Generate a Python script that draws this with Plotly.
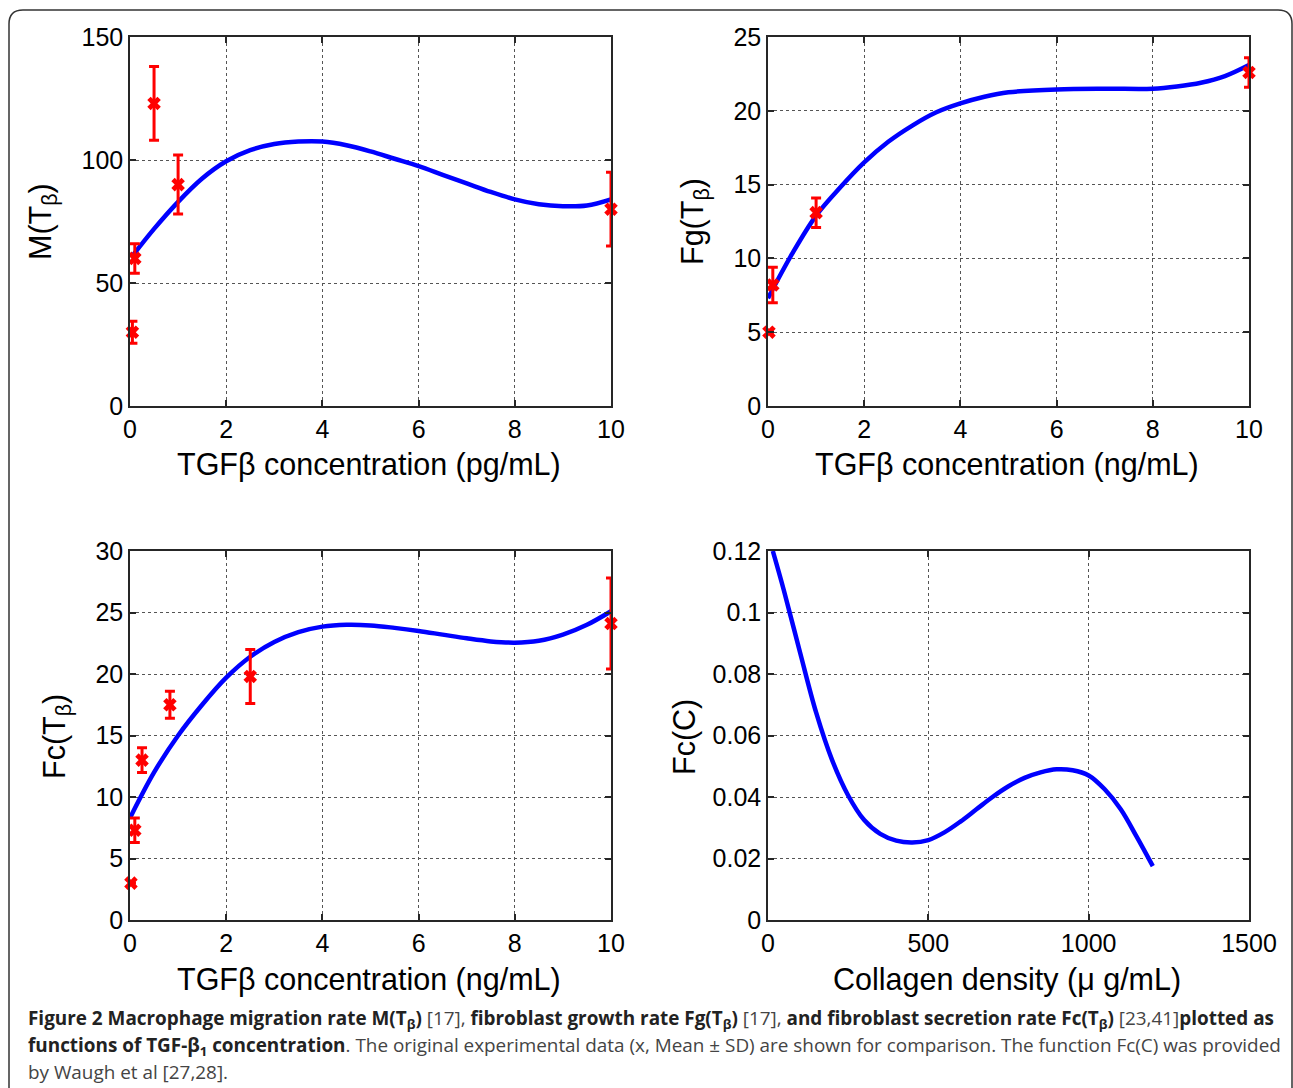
import plotly.graph_objects as go

W, H = 1293, 1088

# ---------------- data ----------------
# Panel A: macrophage migration rate M(Tβ)
m_curve_x = [0.05, 0.5, 1, 1.5, 2, 2.5, 3, 3.5, 4, 4.5, 5, 5.5, 6, 6.5, 7, 7.5, 8, 8.5, 9, 9.5, 10]
m_curve_y = [61, 72, 83, 92.5, 99.5, 104, 106.5, 107.5, 107.5, 106, 103.5, 100.5, 97.5, 94, 90.5, 87, 84, 82, 81.2, 81.5, 84]
m_data_x = [0.05, 0.1, 0.5, 1, 10]
m_data_y = [30, 60, 123, 90, 80]
m_data_sd = [4.5, 6, 15, 12, 15]

# Panel B: fibroblast growth rate Fg(Tβ)
fg_curve_x = [0, 0.5, 1, 1.5, 2, 2.5, 3, 3.5, 4, 4.5, 5, 6, 7, 8, 8.5, 9, 9.5, 10]
fg_curve_y = [7.3, 10.3, 12.9, 14.8, 16.5, 17.9, 19.0, 19.9, 20.5, 20.95, 21.25, 21.45, 21.5, 21.5, 21.65, 21.9, 22.35, 23.1]
fg_data_x = [0.02, 0.1, 1, 10]
fg_data_y = [5, 8.2, 13.1, 22.6]
fg_data_sd = [0, 1.2, 1.0, 1.0]

# Panel C: fibroblast secretion rate Fc(Tβ)
fc_curve_x = [0, 0.5, 1, 1.5, 2, 2.5, 3, 3.5, 4, 4.5, 5, 5.5, 6, 6.5, 7, 7.5, 8, 8.5, 9, 9.5, 10]
fc_curve_y = [8.3, 12.0, 15.0, 17.5, 19.7, 21.4, 22.6, 23.4, 23.85, 24.0, 23.95, 23.75, 23.5, 23.2, 22.9, 22.65, 22.55, 22.7, 23.2, 24.0, 25.1]
fc_data_x = [0.02, 0.1, 0.25, 0.83, 2.5, 10]
fc_data_y = [3.0, 7.3, 13.0, 17.5, 19.8, 24.1]
fc_data_sd = [0, 1.0, 1.0, 1.1, 2.2, 3.7]

# Panel D: Fc(C) vs collagen density
c_curve_x = [15, 50, 100, 150, 200, 250, 300, 350, 400, 450, 500, 550, 600, 650, 700, 750, 800, 850, 900, 950, 1000, 1050, 1100, 1150, 1200]
c_curve_y = [0.12, 0.107, 0.087, 0.0675, 0.052, 0.0405, 0.0325, 0.028, 0.0258, 0.0252, 0.026, 0.0285, 0.032, 0.036, 0.040, 0.0435, 0.0462, 0.048, 0.049, 0.0487, 0.047, 0.0425, 0.036, 0.027, 0.0175]

x_ticks_conc = [0, 2, 4, 6, 8, 10]
x_ticks_coll = [0, 500, 1000, 1500]
y_ticks_m = [0, 50, 100, 150]
y_ticks_fg = [0, 5, 10, 15, 20, 25]
y_ticks_fc = [0, 5, 10, 15, 20, 25, 30]
y_ticks_c = [0, 0.02, 0.04, 0.06, 0.08, 0.1, 0.12]
y_ticktext_c = ["0", "0.02", "0.04", "0.06", "0.08", "0.1", "0.12"]

# ---------------- figure ----------------
BLUE = "#0000ff"
RED = "#ff0000"

def px_x(p):
    return p / W

def px_y(p):
    return 1 - p / H

fig = go.Figure()

panels = [
    (m_curve_x, m_curve_y, m_data_x, m_data_y, m_data_sd, "x", "y"),
    (fg_curve_x, fg_curve_y, fg_data_x, fg_data_y, fg_data_sd, "x2", "y2"),
    (fc_curve_x, fc_curve_y, fc_data_x, fc_data_y, fc_data_sd, "x3", "y3"),
    (c_curve_x, c_curve_y, None, None, None, "x4", "y4"),
]

for cx, cy, dx, dy, sd, xa, ya in panels:
    fig.add_trace(go.Scatter(
        x=cx, y=cy, mode="lines", xaxis=xa, yaxis=ya,
        line=dict(color=BLUE, width=4.5, shape="spline", smoothing=1.0),
        showlegend=False, hoverinfo="skip", cliponaxis=False))
    if dx is not None:
        fig.add_trace(go.Scatter(
            x=dx, y=dy, mode="markers", xaxis=xa, yaxis=ya,
            marker=dict(symbol="x", size=12, color=RED, line=dict(width=0)),
            error_y=dict(type="data", array=sd, visible=True, color=RED,
                         thickness=3, width=5),
            showlegend=False, cliponaxis=False))

boxes = {
    "1": (130, 611, 37, 406),
    "2": (768, 1249, 37, 406),
    "3": (130, 611, 551, 920),
    "4": (768, 1249, 551, 920),
}

tick_font = dict(family="Liberation Sans, Arial", size=25, color="#000")
axis_common = dict(
    showline=True, linecolor="#262626", linewidth=1.5, mirror="ticks",
    ticks="inside", ticklen=6, tickcolor="#262626", tickwidth=1.5,
    showgrid=True, gridcolor="#555", griddash="dot", gridwidth=1,
    zeroline=False, tickfont=tick_font, automargin=False, fixedrange=True,
)

x_specs = {
    "1": dict(range=[0, 10], tickvals=x_ticks_conc),
    "2": dict(range=[0, 10], tickvals=x_ticks_conc),
    "3": dict(range=[0, 10], tickvals=x_ticks_conc),
    "4": dict(range=[0, 1500], tickvals=x_ticks_coll),
}
y_specs = {
    "1": dict(range=[0, 150], tickvals=y_ticks_m),
    "2": dict(range=[0, 25], tickvals=y_ticks_fg),
    "3": dict(range=[0, 30], tickvals=y_ticks_fc),
    "4": dict(range=[0, 0.12], tickvals=y_ticks_c, ticktext=y_ticktext_c),
}

layout_axes = {}
for k, (x0, x1, y0, y1) in boxes.items():
    xn = "xaxis" if k == "1" else f"xaxis{k}"
    yn = "yaxis" if k == "1" else f"yaxis{k}"
    xa = dict(axis_common, domain=[px_x(x0), px_x(x1)],
              anchor="y" if k == "1" else f"y{k}", **x_specs[k])
    ya = dict(axis_common, domain=[px_y(y1), px_y(y0)],
              anchor="x" if k == "1" else f"x{k}", **y_specs[k])
    layout_axes[xn] = xa
    layout_axes[yn] = ya

fig.update_layout(**layout_axes)

title_font = dict(family="Liberation Sans, Arial", size=30.5, color="#000")
annotations = []
x_titles = [
    ("TGFβ concentration (pg/mL)", 369, 464),
    ("TGFβ concentration (ng/mL)", 1007, 464),
    ("TGFβ concentration (ng/mL)", 369, 979),
    ("Collagen density (μ g/mL)", 1007, 979),
]
for t, cxp, cyp in x_titles:
    annotations.append(dict(text=t, x=px_x(cxp), y=px_y(cyp), xref="paper", yref="paper",
                            xanchor="center", yanchor="middle", showarrow=False, font=title_font))
y_titles = [
    ("M(T<sub>β</sub>)", 42, 222),
    ("Fg(T<sub>β</sub>)", 694, 222),
    ("Fc(T<sub>β</sub>)", 56, 737),
    ("Fc(C)", 684, 737),
]
for t, cxp, cyp in y_titles:
    annotations.append(dict(text=t, x=px_x(cxp), y=px_y(cyp), xref="paper", yref="paper",
                            xanchor="center", yanchor="middle", showarrow=False,
                            textangle=-90, font=title_font))

cap_font = dict(family="Open Sans", size=18.9, color="#444")
B = "#222"
line1 = (f"<b><span style='color:{B}'>Figure 2 Macrophage migration rate M(T<sub>β</sub>)</span></b> [17], "
         f"<b><span style='color:{B}'>fibroblast growth rate Fg(T<sub>β</sub>)</span></b> [17], "
         f"<b><span style='color:{B}'>and fibroblast secretion rate Fc(T<sub>β</sub>)</span></b> [23,41]"
         f"<b><span style='color:{B}'>plotted as</span></b>")
line2 = (f"<b><span style='color:{B}'>functions of TGF-β<sub>1</sub> concentration</span></b>. "
         "The original experimental data (x, Mean ± SD) are shown for comparison. The function Fc(C) was provided")
line3 = "by Waugh et al [27,28]."
for t, yp in [(line1, 1019), (line2, 1046), (line3, 1072)]:
    annotations.append(dict(text=t, x=px_x(26), y=px_y(yp), xref="paper", yref="paper",
                            xanchor="left", yanchor="middle", showarrow=False, font=cap_font))

fx0, fy0, fx1, fy1, r = 9, 10, 1292, 1100, 14
path = (f"M {px_x(fx0)},{px_y(fy1)} L {px_x(fx0)},{px_y(fy0 + r)} "
        f"Q {px_x(fx0)},{px_y(fy0)} {px_x(fx0 + r)},{px_y(fy0)} "
        f"L {px_x(fx1 - r)},{px_y(fy0)} "
        f"Q {px_x(fx1)},{px_y(fy0)} {px_x(fx1)},{px_y(fy0 + r)} "
        f"L {px_x(fx1)},{px_y(fy1)}")
fig.update_layout(
    shapes=[dict(type="path", path=path, xref="paper", yref="paper",
                 line=dict(color="#333", width=1.5), layer="below")],
    annotations=annotations,
    width=W, height=H,
    margin=dict(l=0, r=0, t=0, b=0),
    paper_bgcolor="white", plot_bgcolor="white",
    showlegend=False,
)

fig.write_html("out.html", config={"displayModeBar": False},
               post_script="document.body.style.margin='0px';document.body.style.overflow='hidden';")
